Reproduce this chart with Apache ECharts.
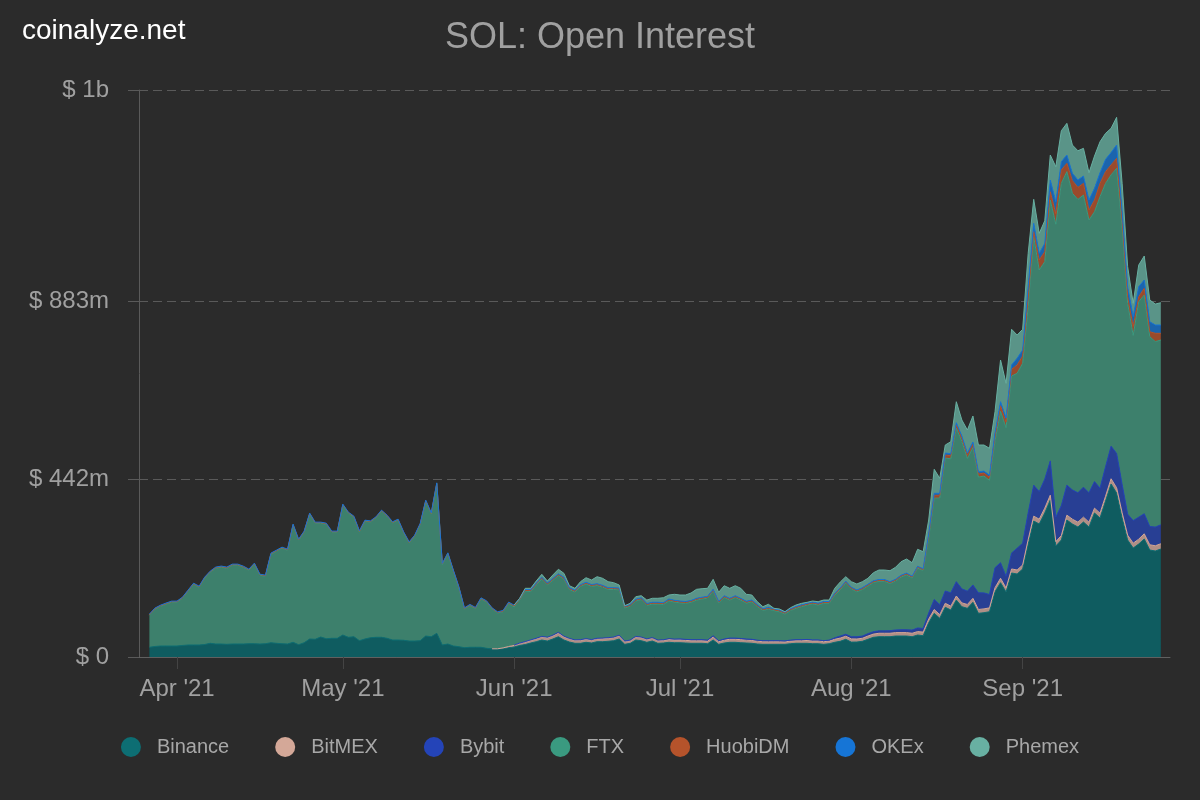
<!DOCTYPE html>
<html>
<head>
<meta charset="utf-8">
<script src="https://cdn.jsdelivr.net/npm/echarts@6/dist/echarts.min.js"></script>
<style>
html,body{margin:0;padding:0;background:#2b2b2b;}
#chart{width:1200px;height:800px;}
</style>
</head>
<body>
<div id="chart"></div>
<script>
// ---- data (values in millions of USD), daily from 2021-03-27; null = exchange not listed yet ----
const startDate = '2021-03-27';
const seriesNames = ['Binance', 'BitMEX', 'Bybit', 'FTX', 'HuobiDM', 'OKEx', 'Phemex'];

const binance = [
24.1,26.1,27.3,27.3,27.3,27.3,28.6,29.8,29.8,29.8,
31.0,34.0,32.3,32.3,31.5,32.3,32.3,32.3,33.0,33.0,
32.3,33.0,35.5,34.0,33.0,32.3,36.5,30.5,35.5,44.7,
44.0,49.7,45.4,46.4,46.4,54.6,48.9,50.4,40.5,44.7,
47.9,48.9,48.9,46.4,42.2,42.2,41.5,39.7,39.7,40.5,
52.1,50.4,58.8,29.8,32.3,27.3,25.6,23.1,24.1,24.1,
24.1,21.6,19.9,19.9,20.6,23.1,24.8,28.6,31.0,34.8,
38.0,42.2,39.7,44.7,50.4,42.2,37.2,34.0,34.0,36.5,
34.8,38.0,38.0,39.0,40.5,44.7,31.5,34.0,42.2,40.5,
36.5,39.7,34.0,34.8,36.5,35.5,35.5,34.8,34.0,34.0,
34.0,33.0,42.2,31.5,34.8,36.5,36.5,35.5,34.8,34.0,
32.3,31.5,31.5,31.5,31.5,31.5,33.0,34.0,34.0,34.0,
33.0,33.0,31.5,33.0,36.5,39.0,44.0,37.0,37.2,39.0,
44.0,48.9,50.4,50.4,50.4,52.1,52.1,52.1,50.4,54.6,
52.9,85.2,108.5,96.1,123.4,116.7,141.5,124.9,120.9,135.8,
108.5,110.0,112.5,162.1,184.5,161.4,208.6,206.1,218.5,280.6,
337.7,330.2,357.6,389.8,275.6,290.5,340.2,330.2,322.8,335.2,
322.8,357.6,345.1,387.3,429.6,407.2,345.1,290.5,270.6,280.6,
293.0,265.7,263.2,268.2];

const bitmex = [
null,null,null,null,null,null,null,null,null,null,
null,null,null,null,null,null,null,null,null,null,
null,null,null,null,null,null,null,null,null,null,
null,null,null,null,null,null,null,null,null,null,
null,null,null,null,null,null,null,null,null,null,
null,null,null,null,null,null,null,null,null,null,
null,null,0.5,0.5,2,3,4,5,6,6.5,
7,7.5,8,8,9,8,7.5,7,7.5,7.5,
7,7,7.5,7.5,7.5,8,6.5,6.5,7.5,7.5,
7,7,6.5,6.5,7,7,7,6.5,6.5,6.5,
6.5,6.5,7.5,6.5,7,7.5,7.5,7.5,7,7,
7,6.5,6.5,6.5,6.5,6,6.5,6.5,6.5,7,
7,7,6.5,6.5,7.5,8,7.5,8,7.5,7.5,
8,8,8.5,8.5,8.5,8.5,8.5,8.5,8.5,8.5,
9,9,9.5,9,10,9.5,10,9.5,9.5,10,
9.5,9.5,9.5,10,11,10,10,10,10,11,
12,12,12,12,11,11,12,12,12,12,
12,12,12,12,13,13,13,12,12,12,
13,13,13,13];

const bybit = [
null,null,null,null,null,null,null,null,null,null,
null,null,null,null,null,null,null,null,null,null,
null,null,null,null,null,null,null,null,null,null,
null,null,null,null,null,null,null,null,null,null,
null,null,null,null,null,null,null,null,null,null,
null,null,null,null,null,null,null,null,null,null,
null,null,null,null,null,null,0.8,1,1.2,1.2,
1.5,1.5,1.5,1.5,1.8,1.5,1.5,1.5,1.5,1.5,
1.5,1.5,1.5,1.5,1.5,1.5,1.5,1.5,1.5,1.5,
1.5,1.5,1.5,1.5,2,2,2.5,2.5,2.5,2.5,
2.5,2.5,3,2.5,3,3,3,3,3,3,
2.5,2.5,2.5,2.5,2.5,2.5,2.5,2.5,2.5,2.5,
2.5,2.5,2.5,2.5,3.5,5,5,5.5,5.5,5.5,
6,6,6,6,6.5,6.5,7,7,8,9,
9,14.9,24.8,24.8,30.6,33.1,35.6,34.8,33.1,33.1,
41.4,39.7,33.1,49.7,38.7,28.8,39.7,53.9,53.9,66.3,
77.0,68.5,72.0,85.2,60.6,74.5,74.5,72.8,73.0,74.5,
73.0,66.0,62.1,73.0,80.9,85.2,70.3,52.1,56.1,54.6,
49.7,45.4,46.4,47.2];

const ftx = [
79.7,92.6,98.8,103.8,108.7,108.7,117.4,133.6,150.9,143.5,
164.6,176.5,188.2,190.7,189.0,195.6,195.6,190.7,182.5,197.4,
170.8,167.6,219.7,228.7,237.1,232.9,290.7,259.5,274.4,309.9,
288.2,282.5,284.3,263.5,263.5,322.3,308.1,296.7,270.1,292.5,
287.5,296.5,313.1,303.2,290.8,297.5,266.6,243.6,260.2,288.5,
334.7,304.9,371.0,199.9,223.7,185.7,146.0,96.3,103.8,96.3,
120.1,115.2,99.0,89.1,89.8,106.9,94.7,106.2,125.4,119.9,
132.7,142.2,130.0,136.2,140.9,141.7,121.3,118.6,132.1,135.7,
132.2,131.0,126.5,119.6,118.1,112.7,82.2,84.3,87.8,93.2,
83.3,83.2,89.4,87.5,94.0,91.8,89.5,89.5,92.8,98.3,
101.0,104.2,110.9,93.4,102.9,94.3,100.7,95.3,89.0,93.0,
83.6,74.9,78.5,74.7,71.7,66.8,73.4,77.9,82.1,85.3,
89.5,86.6,92.8,91.3,106.2,114.8,127.2,118.3,111.7,115.6,
118.0,122.0,123.0,123.0,117.1,121.3,131.0,136.4,129.2,148.6,
143.9,186.3,251.7,264.6,330.0,333.0,381.2,366.1,329.5,341.4,
287.5,290.1,283.6,315.2,375.8,369.4,439.5,434.4,446.9,512.2,
617.2,550.2,539.9,647.7,727.5,800.2,778.6,736.4,728.6,725.4,
677.3,670.0,723.7,703.8,673.7,708.1,636.3,523.4,459.7,535.0,
543.2,471.2,460.6,458.7];

const huobi = [
1.5,1.5,1.4,1.5,1.5,1.6,1.5,1.5,1.5,1.4,
1.5,1.5,1.5,1.6,1.5,1.5,1.5,1.4,1.5,1.5,
1.5,1.5,1.6,1.5,1.5,1.5,1.5,1.5,1.4,1.5,
1.5,1.5,1.5,1.6,1.5,1.5,1.5,1.5,1.5,1.4,
1.5,1.5,1.5,1.5,1.6,1.5,1.5,1.5,1.5,1.5,
1.4,1.5,1.5,1.5,1.5,1.6,1.5,1.5,1.5,1.5,
1.5,1.5,1.5,1.5,1.8,1.8,2.5,2.5,2.5,2.5,
2.5,2.5,2.5,2.5,2.5,2.5,2.5,2.5,2.5,2.5,
2.5,2.5,2.5,2.5,2.5,2.5,2.5,2.5,2.5,2.5,
2.5,2.5,2.5,2.5,2.5,2.5,2.5,2.5,2.5,2.5,
2.5,2.5,2.5,2.5,2.5,2.5,2.5,2.5,2.5,2.5,
2.5,2.5,2.5,2.5,2.5,2.5,2.5,2.5,2.5,2.5,
2.5,2.5,2.5,2.5,2.5,2.5,2.5,2.5,2.5,2.5,
2.5,2.5,2.5,2.5,2.5,2.5,2.5,2.5,2.5,2.5,
2.5,6,7,7,7.5,7.5,8,8,8,8,
7.5,7.5,7.5,12,14,14,16.6,20.6,18.1,24.8,
12.4,24.8,24.8,20.6,26.0,33.0,20.6,31.5,29.8,29.1,
24.8,29.1,33.0,29.1,24.8,24.8,20.6,16.6,22.0,12.4,
16.6,12.4,20.6,16.6];

const okex = [
1.2,1.2,1.2,1.3,1.2,1.2,1.2,1.2,1.1,1.2,
1.2,1.2,1.2,1.2,1.3,1.2,1.2,1.2,1.2,1.2,
1.1,1.2,1.2,1.2,1.2,1.2,1.3,1.2,1.2,1.2,
1.2,1.2,1.2,1.1,1.2,1.2,1.2,1.2,1.3,1.2,
1.2,1.2,1.2,1.2,1.2,1.1,1.2,1.2,1.2,1.2,
1.3,1.2,1.2,1.2,1.2,1.2,1.1,1.2,1.2,1.2,
1.2,1.2,1.2,1.2,1.5,1.5,2,2,2,2,
2,2,2,2,2,2,2,2,2,2,
2,2,2,2,2,2,2,2,2,2,
2,2,2,2,2,2,2,2,2,2,
2,2,2,2,2,2,2,2,2,2,
2,2,2,2,2,2,2,2,2,2,
2,2,2,2,2,2,2,2,2,2,
2,2,2,2,2,2,2,2,2,2,
2,4,5,5,5,5,5.5,5.5,5.5,5.5,
5,5,5,8,10,10,10.7,16.6,14.9,24.8,
20.6,16.6,20.6,29.1,29.8,20.6,20.6,18.1,18.1,18.1,
24.8,29.1,26.6,30.5,30.5,33.0,20.6,24.8,24.8,24.8,
20.6,24.8,20.6,20.6];

const phemex = [
null,null,null,null,null,null,null,null,null,null,
null,null,null,null,null,null,null,null,null,null,
null,null,null,null,null,null,null,null,null,null,
null,null,null,null,null,null,null,null,null,null,
null,null,null,null,null,null,null,null,null,null,
null,null,null,null,null,null,null,null,null,null,
null,null,null,null,null,null,0.3,0.5,2.5,3.7,
5.0,7.4,5.0,8.7,11.2,9.9,5.0,5.0,7.4,11.2,
11.2,17.4,17.4,14.9,12.4,7.4,1.2,2.5,6.2,5.0,
8.7,9.9,9.9,12.4,9.9,14.9,14.9,16.1,18.6,22.3,
21.1,19.9,24.8,22.3,24.8,24.8,24.8,24.8,17.4,12.4,
7.4,5.0,7.4,1.2,2.5,1.2,2.5,3.7,3.7,2.5,
2.5,3.7,3.7,3.7,12.4,14.9,11.2,13.7,14.9,14.9,
14.9,19.9,23.6,23.6,27.3,29.8,33.5,34.8,33.5,42.2,
42.2,34.8,59.6,37.2,19.9,29.8,52.1,39.7,57.1,64.6,
67.0,64.6,67.0,52.1,103.5,86.0,88.6,57.9,51.4,82.7,
59.6,49.7,56.4,62.1,86.9,77.0,78.7,70.3,72.8,68.8,
67.8,80.2,77.0,64.6,60.3,68.8,70.3,49.7,33.0,53.9,
59.6,53.9,52.1,55.4];

// tick labels
const yTickValues = [0, 441.6, 883.2, 1408];
const yTickLabels = ['$ 0', '$ 442m', '$ 883m', '$ 1b'];
const monthTicks = ['2021-04-01','2021-05-01','2021-06-01','2021-07-01','2021-08-01','2021-09-01'];
const monthLabels = ["Apr '21","May '21","Jun '21","Jul '21","Aug '21","Sep '21"];

// ---- styling ----
const lineColors = ['#0d6e73','#d4a898','#2444b8','#3a9a80','#b5532b','#1675d6','#68b0a2'];
const areaColors = ['#0f5c60','#b08f86','#283f94','#3d806c','#9a4a2c','#1b64ad','#5a9488'];
const FONT = '"Liberation Sans", Arial, sans-serif';

const DAY = 86400000;
const t0 = Date.parse(startDate);
const monthTs = monthTicks.map(d => Date.parse(d));
const valueArrays = [binance, bitmex, bybit, ftx, huobi, okex, phemex];

// data rows are [value, time] so that the value dimension is the stacked one
const series = seriesNames.map((name, k) => ({
  name: name,
  type: 'line',
  stack: 'oi',
  symbol: 'none',
  showSymbol: false,
  encode: { x: 1, y: 0 },
  lineStyle: { width: 1, color: lineColors[k] },
  itemStyle: { color: lineColors[k] },
  areaStyle: { color: areaColors[k], opacity: 1 },
  emphasis: { disabled: true },
  data: valueArrays[k].map((v, i) => [v === null ? '-' : v, t0 + i * DAY])
}));

function findIdx(arr, v) {
  for (let i = 0; i < arr.length; i++) if (Math.abs(arr[i] - v) < 1e-6 * Math.max(1, Math.abs(v))) return i;
  return -1;
}

const chart = echarts.init(document.getElementById('chart'), null, { renderer: 'canvas' });
chart.setOption({
  backgroundColor: '#2b2b2b',
  animation: false,
  title: {
    text: 'SOL: Open Interest',
    left: 'center',
    top: 15,
    textStyle: { color: '#a0a0a0', fontSize: 36, fontWeight: 'normal', fontFamily: FONT }
  },
  graphic: [{
    type: 'text', left: 22, top: 17,
    style: { text: 'coinalyze.net', fill: '#ffffff', font: '28px ' + FONT }
  }],
  legend: {
    top: 732,
    left: 'center',
    icon: 'circle',
    itemWidth: 20,
    itemHeight: 20,
    itemGap: 46,
    data: seriesNames,
    textStyle: { color: '#a8a8a8', fontSize: 20, fontFamily: FONT, padding: [0, 0, 0, 11] }
  },
  grid: { left: 139, right: 30, top: 90, bottom: 143, containLabel: false },
  xAxis: {
    type: 'value',
    min: t0 - 1.88 * DAY,
    max: t0 + 184.66 * DAY,
    axisLine: { show: true, lineStyle: { color: '#606060', width: 1 } },
    axisTick: { show: true, customValues: monthTs, length: 12, lineStyle: { color: '#444444' } },
    splitLine: { show: false },
    axisLabel: {
      customValues: monthTs,
      color: '#a0a0a0',
      fontSize: 24,
      fontFamily: FONT,
      margin: 20,
      formatter: v => { const i = findIdx(monthTs, v); return i >= 0 ? monthLabels[i] : ''; }
    }
  },
  yAxis: {
    type: 'value',
    min: 0,
    max: 1408,
    axisLine: { show: true, lineStyle: { color: '#5a5a5a', width: 1 } },
    axisTick: { show: true, customValues: yTickValues, length: 11, lineStyle: { color: '#5a5a5a' } },
    splitLine: { show: true, lineStyle: { color: '#5a5a5a', type: [9, 5], width: 1 } },
    axisLabel: {
      customValues: yTickValues,
      color: '#a0a0a0',
      fontSize: 24,
      fontFamily: FONT,
      margin: 30,
      formatter: v => { const i = findIdx(yTickValues, v); return i >= 0 ? yTickLabels[i] : ''; }
    }
  },
  series: series
});
</script>
</body>
</html>
